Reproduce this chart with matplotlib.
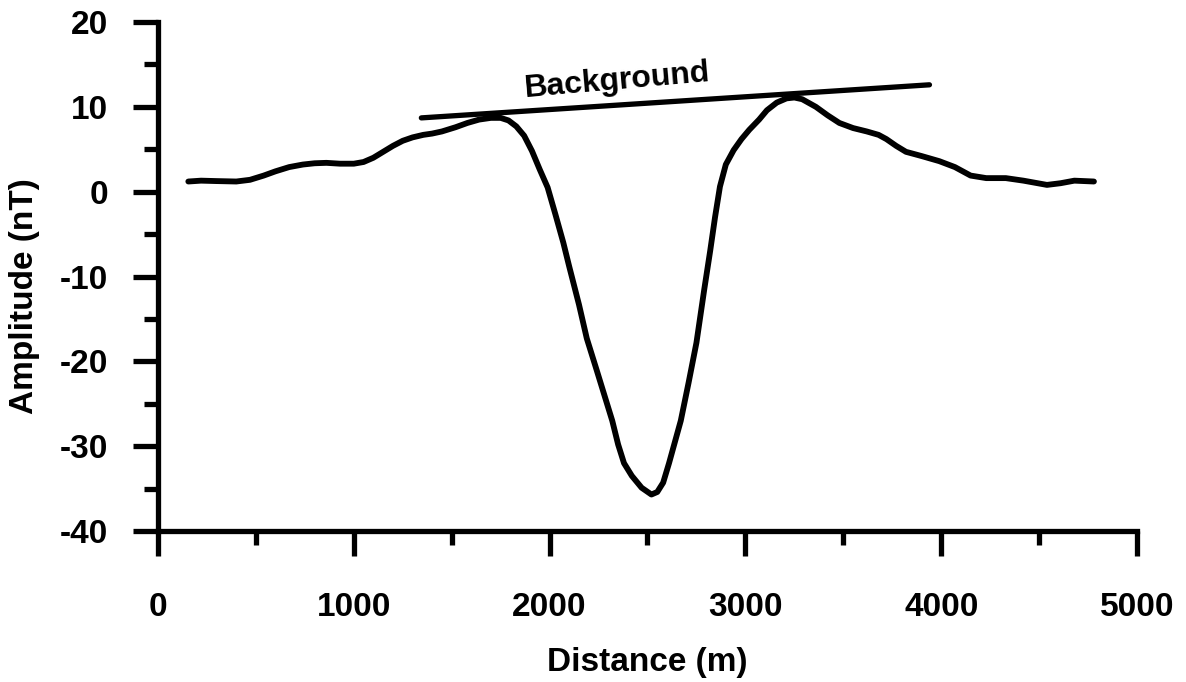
import matplotlib
matplotlib.use("Agg")
import matplotlib.pyplot as plt
from matplotlib.ticker import MultipleLocator

plt.rcParams['font.family'] = ['Liberation Sans', 'DejaVu Sans']
plt.rcParams['font.weight'] = 'bold'
plt.rcParams['axes.unicode_minus'] = False

# profile (distance m, amplitude nT)
distance = [155, 220, 300, 400, 470, 540, 600, 670, 740, 800, 860, 930,
            1000, 1050, 1100, 1150, 1200, 1250, 1300, 1355, 1400, 1450, 1520,
            1580, 1640, 1700, 1750, 1790, 1830, 1870, 1910, 1950, 1990, 2030,
            2070, 2100, 2150, 2190, 2240, 2280, 2320, 2350, 2380, 2420, 2470,
            2520, 2550, 2580, 2610, 2640, 2670, 2710, 2750, 2790, 2820, 2845,
            2870, 2900, 2940, 2980, 3020, 3070, 3110, 3160, 3210, 3250, 3290,
            3360, 3420, 3480, 3550, 3620, 3680, 3720, 3770, 3820, 3900, 3990,
            4070, 4150, 4230, 4330, 4420, 4540, 4610, 4680, 4780]
amplitude = [1.2, 1.3, 1.25, 1.2, 1.4, 1.9, 2.4, 2.9, 3.2, 3.35, 3.4, 3.3,
             3.3, 3.5, 4.0, 4.7, 5.4, 6.0, 6.4, 6.7, 6.85, 7.1, 7.6,
             8.1, 8.5, 8.7, 8.7, 8.4, 7.7, 6.6, 4.8, 2.6, 0.5, -2.7,
             -6.0, -8.8, -13.3, -17.3, -21.0, -24.0, -27.0, -29.8, -32.0, -33.5, -34.9,
             -35.7, -35.4, -34.3, -32.0, -29.5, -27.0, -22.5, -17.8, -11.5, -7.0, -3.0,
             0.6, 3.2, 4.9, 6.2, 7.3, 8.5, 9.6, 10.5, 11.0, 11.1, 10.9,
             10.0, 9.0, 8.1, 7.5, 7.1, 6.7, 6.2, 5.4, 4.7, 4.2, 3.6,
             2.9, 1.9, 1.6, 1.6, 1.3, 0.8, 1.0, 1.3, 1.2]

# background trend line end points
bg_x = [1345, 3940]
bg_y = [8.7, 12.6]

fig = plt.figure(figsize=(11.86, 6.82), dpi=100)
ax = fig.add_axes([0.1332, 0.2214, 0.8255, 0.7463])

ax.plot(distance, amplitude, color='black', linewidth=4.2,
        solid_joinstyle='round', solid_capstyle='round')
ax.plot(bg_x, bg_y, color='black', linewidth=3.8, solid_capstyle='round')
ax.text(2344, 13.0, 'Background', fontsize=23, fontweight='bold',
        rotation=5, ha='center', va='center')

ax.set_xlim(0, 5000)
ax.set_ylim(-40, 20)
ax.xaxis.set_major_locator(MultipleLocator(1000))
ax.xaxis.set_minor_locator(MultipleLocator(500))
ax.yaxis.set_major_locator(MultipleLocator(10))
ax.yaxis.set_minor_locator(MultipleLocator(5))

for s in ['top', 'right']:
    ax.spines[s].set_visible(False)
for s in ['left', 'bottom']:
    ax.spines[s].set_linewidth(3.8)

ax.tick_params(which='major', direction='out', length=18, width=3.8,
               labelsize=24, pad=26)
ax.tick_params(which='minor', direction='out', length=10, width=3.8)
ax.tick_params(axis='y', which='major', pad=18)
for lab in ax.get_xticklabels() + ax.get_yticklabels():
    lab.set_fontweight('bold')

ax.set_xlabel('Distance (m)', fontsize=24, fontweight='bold', va='center')
ax.set_ylabel('Amplitude (nT)', fontsize=24, fontweight='bold', va='center')
ax.xaxis.set_label_coords(0.5, -0.259)
ax.yaxis.set_label_coords(-0.136, 0.462)

fig.savefig('out.png', dpi=100)
